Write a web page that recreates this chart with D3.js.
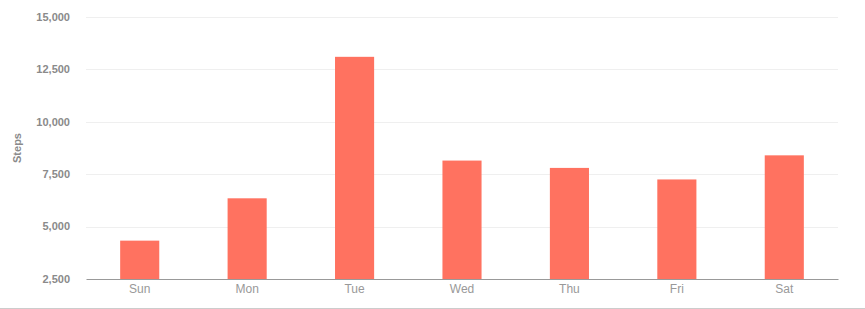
<!DOCTYPE html>
<html>
<head>
<meta charset="utf-8">
<script src="https://cdn.jsdelivr.net/npm/d3@7"></script>
<style>
  body { margin: 0; background: #fff; font-family: "Liberation Sans", Arial, sans-serif; }
  .grid line { stroke: #efefef; }
  .y-axis text { fill: #8a8a8a; font-weight: bold; font-size: 11px; }
  .x-axis text { fill: #999; font-size: 12px; }
</style>
</head>
<body>
<div id="chart"></div>
<script>
let days = ["Sun", "Mon", "Tue", "Wed", "Thu", "Fri", "Sat"]
let steps = [4330, 6350, 13100, 8150, 7800, 7250, 8400]
let yTicks = [2500, 5000, 7500, 10000, 12500, 15000]

let width = 865, height = 309
let margin = {top: 17, right: 27, bottom: 30, left: 86}

let svg = d3.select("#chart").append("svg")
    .attr("width", width)
    .attr("height", height)

let x = d3.scaleBand()
    .domain(days)
    .range([margin.left, width - margin.right])
    .paddingInner(0.636)
    .paddingOuter(0.318)

let y = d3.scaleLinear()
    .domain([2500, 15000])
    .range([height - margin.bottom, margin.top])

// gridlines
svg.append("g")
    .attr("class", "grid")
    .selectAll("line")
    .data(yTicks.slice(1))
    .join("line")
        .attr("x1", margin.left)
        .attr("x2", width - margin.right)
        .attr("y1", d => Math.round(y(d)) + 0.5)
        .attr("y2", d => Math.round(y(d)) + 0.5)

// y tick labels
svg.append("g")
    .attr("class", "y-axis")
    .selectAll("text")
    .data(yTicks)
    .join("text")
        .attr("x", margin.left - 16)
        .attr("y", d => y(d))
        .attr("dy", "0.35em")
        .attr("text-anchor", "end")
        .text(d => d3.format(",")(d))

svg.append("text")
    .attr("transform", `translate(21, ${(margin.top + height - margin.bottom) / 2}) rotate(-90)`)
    .attr("text-anchor", "middle")
    .attr("fill", "#8a8a8a")
    .attr("font-weight", "bold")
    .attr("font-size", "11px")
    .text("Steps")

// bars
svg.append("g")
    .selectAll("rect")
    .data(days)
    .join("rect")
        .attr("x", d => x(d))
        .attr("y", (d, i) => y(steps[i]))
        .attr("width", x.bandwidth())
        .attr("height", (d, i) => y(2500) - y(steps[i]))
        .attr("fill", "#ff7260")

// x axis
let xAxis = svg.append("g")
    .attr("class", "x-axis")
    .attr("transform", `translate(0, ${height - margin.bottom})`)
    .call(d3.axisBottom(x).tickSize(0).tickPadding(5))
xAxis.select(".domain").attr("stroke", "#999").attr("stroke-width", 1)
xAxis.selectAll("text").attr("fill", "#999").attr("font-family", "Liberation Sans, Arial, sans-serif").attr("font-size", "12px")

// bottom border
svg.append("line")
    .attr("x1", 0)
    .attr("x2", width)
    .attr("y1", height - 0.5)
    .attr("y2", height - 0.5)
    .attr("stroke", "#ccc")
</script>
</body>
</html>
